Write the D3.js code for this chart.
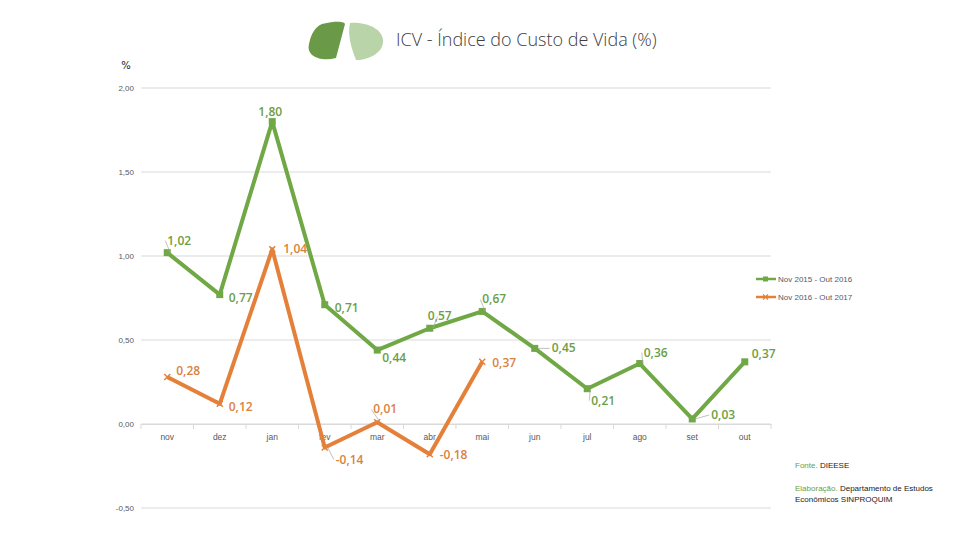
<!DOCTYPE html>
<html><head><meta charset="utf-8">
<script src="https://cdn.jsdelivr.net/npm/d3@7"></script>
<style>body{margin:0;background:#fff}svg{display:block}</style>
</head><body>
<svg id="c" width="960" height="540"></svg>
<script>
const categories = ["nov","dez","jan","fev","mar","abr","mai","jun","jul","ago","set","out"];
const series1Name = "Nov 2015 - Out 2016";
const series1 = [1.02,0.77,1.80,0.71,0.44,0.57,0.67,0.45,0.21,0.36,0.03,0.37];
const series2Name = "Nov 2016 - Out 2017";
const series2 = [0.28,0.12,1.04,-0.14,0.01,-0.18,0.37];
const yTicks = [-0.5,0,0.5,1,1.5,2];
const title = "ICV - Índice do Custo de Vida (%)";

// label offsets (styling) relative to point: [dx, dy, anchor]
const lab1 = [[0,-12,"start"],[9,3,"start"],[-2,-10,"middle"],[10,3,"start"],[5,8,"start"],[10,-12,"middle"],[0,-12,"start"],[17,0,"start"],[4,12,"start"],[4,-11,"start"],[19,-4,"start"],[7,-8,"start"]];
const lab2 = [[9,-6,"start"],[9,3,"start"],[11,0,"start"],[11,12,"start"],[-4,-13,"start"],[10,1,"start"],[10,1,"start"]];

const fmt = v => d3.format(".2f")(v).replace(".", ",").replace("\u2212", "-");
const svg = d3.select("#c");
const green = "#70a845", orange = "#e4803a";
const greenT = "#6b9e44", orangeT = "#d9823f";

const x = d3.scaleBand().domain(categories).range([141,771]).paddingInner(0).paddingOuter(0);
const y = d3.scaleLinear().domain([-0.5,2]).range([508,88]);
const cx = c => x(c) + x.bandwidth()/2;

// gridlines
svg.append("g").selectAll("line").data(yTicks).join("line")
  .attr("x1",141).attr("x2",771).attr("y1",d=>y(d)).attr("y2",d=>y(d))
  .attr("stroke","#d9d9d9").attr("stroke-width",1);

// y labels
svg.append("g").selectAll("text").data(yTicks).join("text")
  .attr("x",134).attr("y",d=>y(d)+3).attr("text-anchor","end")
  .attr("font-family","Liberation Sans, Arial").attr("font-size",8).attr("fill","#595959")
  .text(d=>fmt(d));

// x axis
const xa = svg.append("g").attr("transform",`translate(0,${y(0)})`)
  .call(d3.axisBottom(x).tickSize(0).tickPadding(10));
xa.select(".domain").attr("stroke","#d9d9d9");
xa.selectAll("text").attr("font-family","Liberation Sans, Arial").attr("font-size",8.5).attr("fill","#595959");
svg.append("g").selectAll("line").data(d3.range(categories.length+1)).join("line")
  .attr("x1",i=>141+i*x.step()).attr("x2",i=>141+i*x.step())
  .attr("y1",y(0)).attr("y2",y(0)+5).attr("stroke","#d9d9d9");

// "%" label
svg.append("text").attr("x",126).attr("y",69).attr("text-anchor","middle")
  .attr("font-family","DejaVu Sans").attr("font-size",10).attr("fill","#222").text("%");

// lines
const line = d3.line().x((d,i)=>cx(categories[i])).y(d=>y(d));
svg.append("path").datum(series1).attr("d",line).attr("fill","none").attr("stroke",green).attr("stroke-width",4).attr("stroke-linejoin","round");
svg.append("path").datum(series2).attr("d",line).attr("fill","none").attr("stroke",orange).attr("stroke-width",4).attr("stroke-linejoin","round");

// markers
svg.append("g").selectAll("rect").data(series1).join("rect")
  .attr("x",(d,i)=>cx(categories[i])-3.5).attr("y",d=>y(d)-3.5).attr("width",7).attr("height",7).attr("fill",green);
const xs = svg.append("g");
series2.forEach((d,i)=>{
  const px=cx(categories[i]), py=y(d);
  xs.append("path").attr("d",`M${px-3},${py-3}L${px+3},${py+3}M${px-3},${py+3}L${px+3},${py-3}`)
    .attr("stroke",orange).attr("stroke-width",1.5);
});

// leader lines + labels
function labels(data, offs, col){
  const g = svg.append("g");
  data.forEach((d,i)=>{
    const px=cx(categories[i]), py=y(d);
    const [dx,dy,an]=offs[i];
    g.append("text").attr("x",px+dx).attr("y",py+dy+4).attr("text-anchor",an)
      .attr("font-family","Open Sans, Liberation Sans").attr("font-weight",600).attr("font-size",12)
      .attr("fill",col).text(fmt(d));
    if (Math.abs(dx)>12 || Math.abs(dy)>10){
      g.append("line").attr("x1",px+3).attr("y1",py).attr("x2",px+dx-2).attr("y2",py+dy)
        .attr("stroke","#a6a6a6").attr("stroke-width",0.7);
    }
  });
}
labels(series1, lab1, greenT);
labels(series2, lab2, orangeT);

// legend
const lg = svg.append("g");
[[series1Name,green,"sq"],[series2Name,orange,"x"]].forEach((s,i)=>{
  const ly = 279 + i*18;
  lg.append("line").attr("x1",756).attr("x2",776).attr("y1",ly).attr("y2",ly).attr("stroke",s[1]).attr("stroke-width",2.5);
  if (s[2]==="sq") lg.append("rect").attr("x",763).attr("y",ly-2.5).attr("width",5).attr("height",5).attr("fill",s[1]);
  else lg.append("path").attr("d",`M${763},${ly-2.5}L${768},${ly+2.5}M${763},${ly+2.5}L${768},${ly-2.5}`).attr("stroke",s[1]).attr("stroke-width",1.2);
  lg.append("text").attr("x",778).attr("y",ly+3).attr("font-family","Liberation Sans, Arial").attr("font-size",8)
    .attr("fill","#595959").text(s[0]);
});

// title + logo
svg.append("path").attr("d","M322,24 C338,20 345,22 345,24 L336,58 C320,62 306,56 309,44 C311,34 315,27 322,24 Z").attr("fill","#6a9a47");
svg.append("path").attr("d","M350,23 C362,22 381,26 383,40 C384,52 370,60 356,60 C352,50 347,35 350,23 Z").attr("fill","#b9d4a9");
svg.append("text").attr("x",396).attr("y",46).attr("font-family","Open Sans").attr("font-weight",300)
  .attr("font-size",18).attr("fill","#404040").text(title);

// source
const src = svg.append("g").attr("font-family","Liberation Sans Narrow, Liberation Sans").attr("font-size",8);
const t1 = src.append("text").attr("x",795).attr("y",468);
t1.append("tspan").attr("fill","#6b9e44").text("Fonte. ");
t1.append("tspan").attr("fill","#222").text("DIEESE");
const t2 = src.append("text").attr("x",795).attr("y",491);
t2.append("tspan").attr("fill","#6b9e44").text("Elaboração. ");
t2.append("tspan").attr("fill","#222").text("Departamento de Estudos");
src.append("text").attr("x",795).attr("y",502).attr("fill","#222").text("Econômicos SINPROQUIM");
</script>
</body></html>
